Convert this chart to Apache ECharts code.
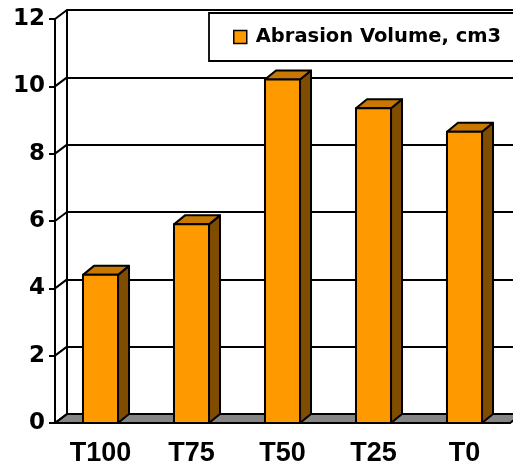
<!DOCTYPE html>
<html>
<head>
<meta charset="utf-8">
<script src="https://cdn.jsdelivr.net/npm/echarts@6/dist/echarts.min.js"></script>
<style>html,body{margin:0;padding:0;background:#fff}#c{width:513px;height:468px}</style>
</head>
<body>
<div id="c"></div>
<script>
const categories = ['T100', 'T75', 'T50', 'T25', 'T0'];
const abrasionVolume = [4.4, 5.9, 10.2, 9.35, 8.65];
const seriesName = 'Abrasion Volume, cm3';
const yTicks = [0, 2, 4, 6, 8, 10, 12];

const DX = 12, DY = -9;      // wall depth
const BDX = 11, BDY = -9;    // bar depth
const BAR_RATIO = 0.385;

const chart = echarts.init(document.getElementById('c'), null, {renderer: 'canvas'});

const option = {
  animation: false,
  backgroundColor: '#fff',
  grid: [
    {left: 55, top: 19, width: 455, height: 404},
    {left: 55 + DX, top: 19 + DY, width: 455, height: 404}
  ],
  legend: {
    left: 209, top: 13,
    padding: [14, 24, 14, 24],
    backgroundColor: '#fff',
    borderColor: '#000', borderWidth: 1.8,
    itemWidth: 13, itemHeight: 13, icon: 'rect',
    textStyle: {fontFamily: 'DejaVu Sans', fontWeight: 'bold', fontSize: 19.5, color: '#000', lineHeight: 20, padding: [0, 0, 0, 4]},
    data: [{name: seriesName, itemStyle: {color: '#FF9900', borderColor: '#000', borderWidth: 1.5}}]
  },
  xAxis: [
    {
      type: 'category', gridIndex: 0, data: categories,
      axisLine: {lineStyle: {color: '#000', width: 2}},
      axisTick: {length: 6, lineStyle: {color: '#000', width: 2}},
      axisLabel: {fontFamily: 'Liberation Sans', fontWeight: 'bold', fontSize: 27, color: '#000', margin: 17},
      splitLine: {show: false}
    },
    {type: 'category', gridIndex: 1, data: categories, show: false}
  ],
  yAxis: [
    {
      type: 'value', gridIndex: 0, min: 0, max: 12, interval: 2,
      axisLine: {show: true, lineStyle: {color: '#000', width: 2}},
      axisTick: {show: true, length: 6, lineStyle: {color: '#000', width: 2}},
      axisLabel: {fontFamily: 'DejaVu Sans', fontWeight: 'bold', fontSize: 23, color: '#000', margin: 10},
      splitLine: {show: false}
    },
    {
      type: 'value', gridIndex: 1, min: 0, max: 12, interval: 2,
      axisLine: {show: true, lineStyle: {color: '#000', width: 2}},
      axisTick: {show: false}, axisLabel: {show: false},
      splitLine: {show: true, lineStyle: {color: '#000', width: 2}}
    }
  ],
  series: [
    {
      name: 'floor', type: 'custom', xAxisIndex: 0, yAxisIndex: 0, silent: true, z: 1,
      data: [[0, 0]],
      renderItem: function (params, api) {
        const y0 = api.coord([0, 0])[1];
        const cs = params.coordSys;
        return {
          type: 'polygon',
          shape: {points: [[cs.x, y0], [cs.x + cs.width, y0], [cs.x + cs.width + DX, y0 + DY], [cs.x + DX, y0 + DY]]},
          style: {fill: '#858585', stroke: '#000', lineWidth: 2}
        };
      }
    },
    {
      name: 'wallTicks', type: 'custom', xAxisIndex: 0, yAxisIndex: 0, silent: true, z: 1,
      data: yTicks.map(v => [0, v]),
      renderItem: function (params, api) {
        const p = api.coord([0, api.value(1)]);
        const x = params.coordSys.x;
        return {
          type: 'line',
          shape: {x1: x, y1: p[1], x2: x + DX, y2: p[1] + DY},
          style: {stroke: '#000', lineWidth: 2}
        };
      }
    },
    {
      name: seriesName, type: 'custom', xAxisIndex: 0, yAxisIndex: 0, silent: true, z: 3,
      itemStyle: {color: '#FF9900'},
      data: abrasionVolume.map((v, i) => [i, v]),
      renderItem: function (params, api) {
        const top = api.coord([api.value(0), api.value(1)]);
        const base = api.coord([api.value(0), 0]);
        const bw = api.size([1, 0])[0];
        const w = bw * BAR_RATIO;
        const x0 = top[0] - w / 2, x1 = top[0] + w / 2, yT = top[1], yB = base[1];
        const st = {stroke: '#000', lineWidth: 2, lineJoin: 'round'};
        return {
          type: 'group',
          children: [
            {type: 'polygon', shape: {points: [[x1, yT], [x1 + BDX, yT + BDY], [x1 + BDX, yB + BDY], [x1, yB]]},
             style: Object.assign({fill: '#7F4C00'}, st)},
            {type: 'polygon', shape: {points: [[x0, yT], [x0 + BDX, yT + BDY], [x1 + BDX, yT + BDY], [x1, yT]]},
             style: Object.assign({fill: '#C87800'}, st)},
            {type: 'rect', shape: {x: x0, y: yT, width: w, height: yB - yT},
             style: Object.assign({fill: '#FF9900'}, st)}
          ]
        };
      }
    }
  ]
};
chart.setOption(option);
</script>
</body>
</html>
